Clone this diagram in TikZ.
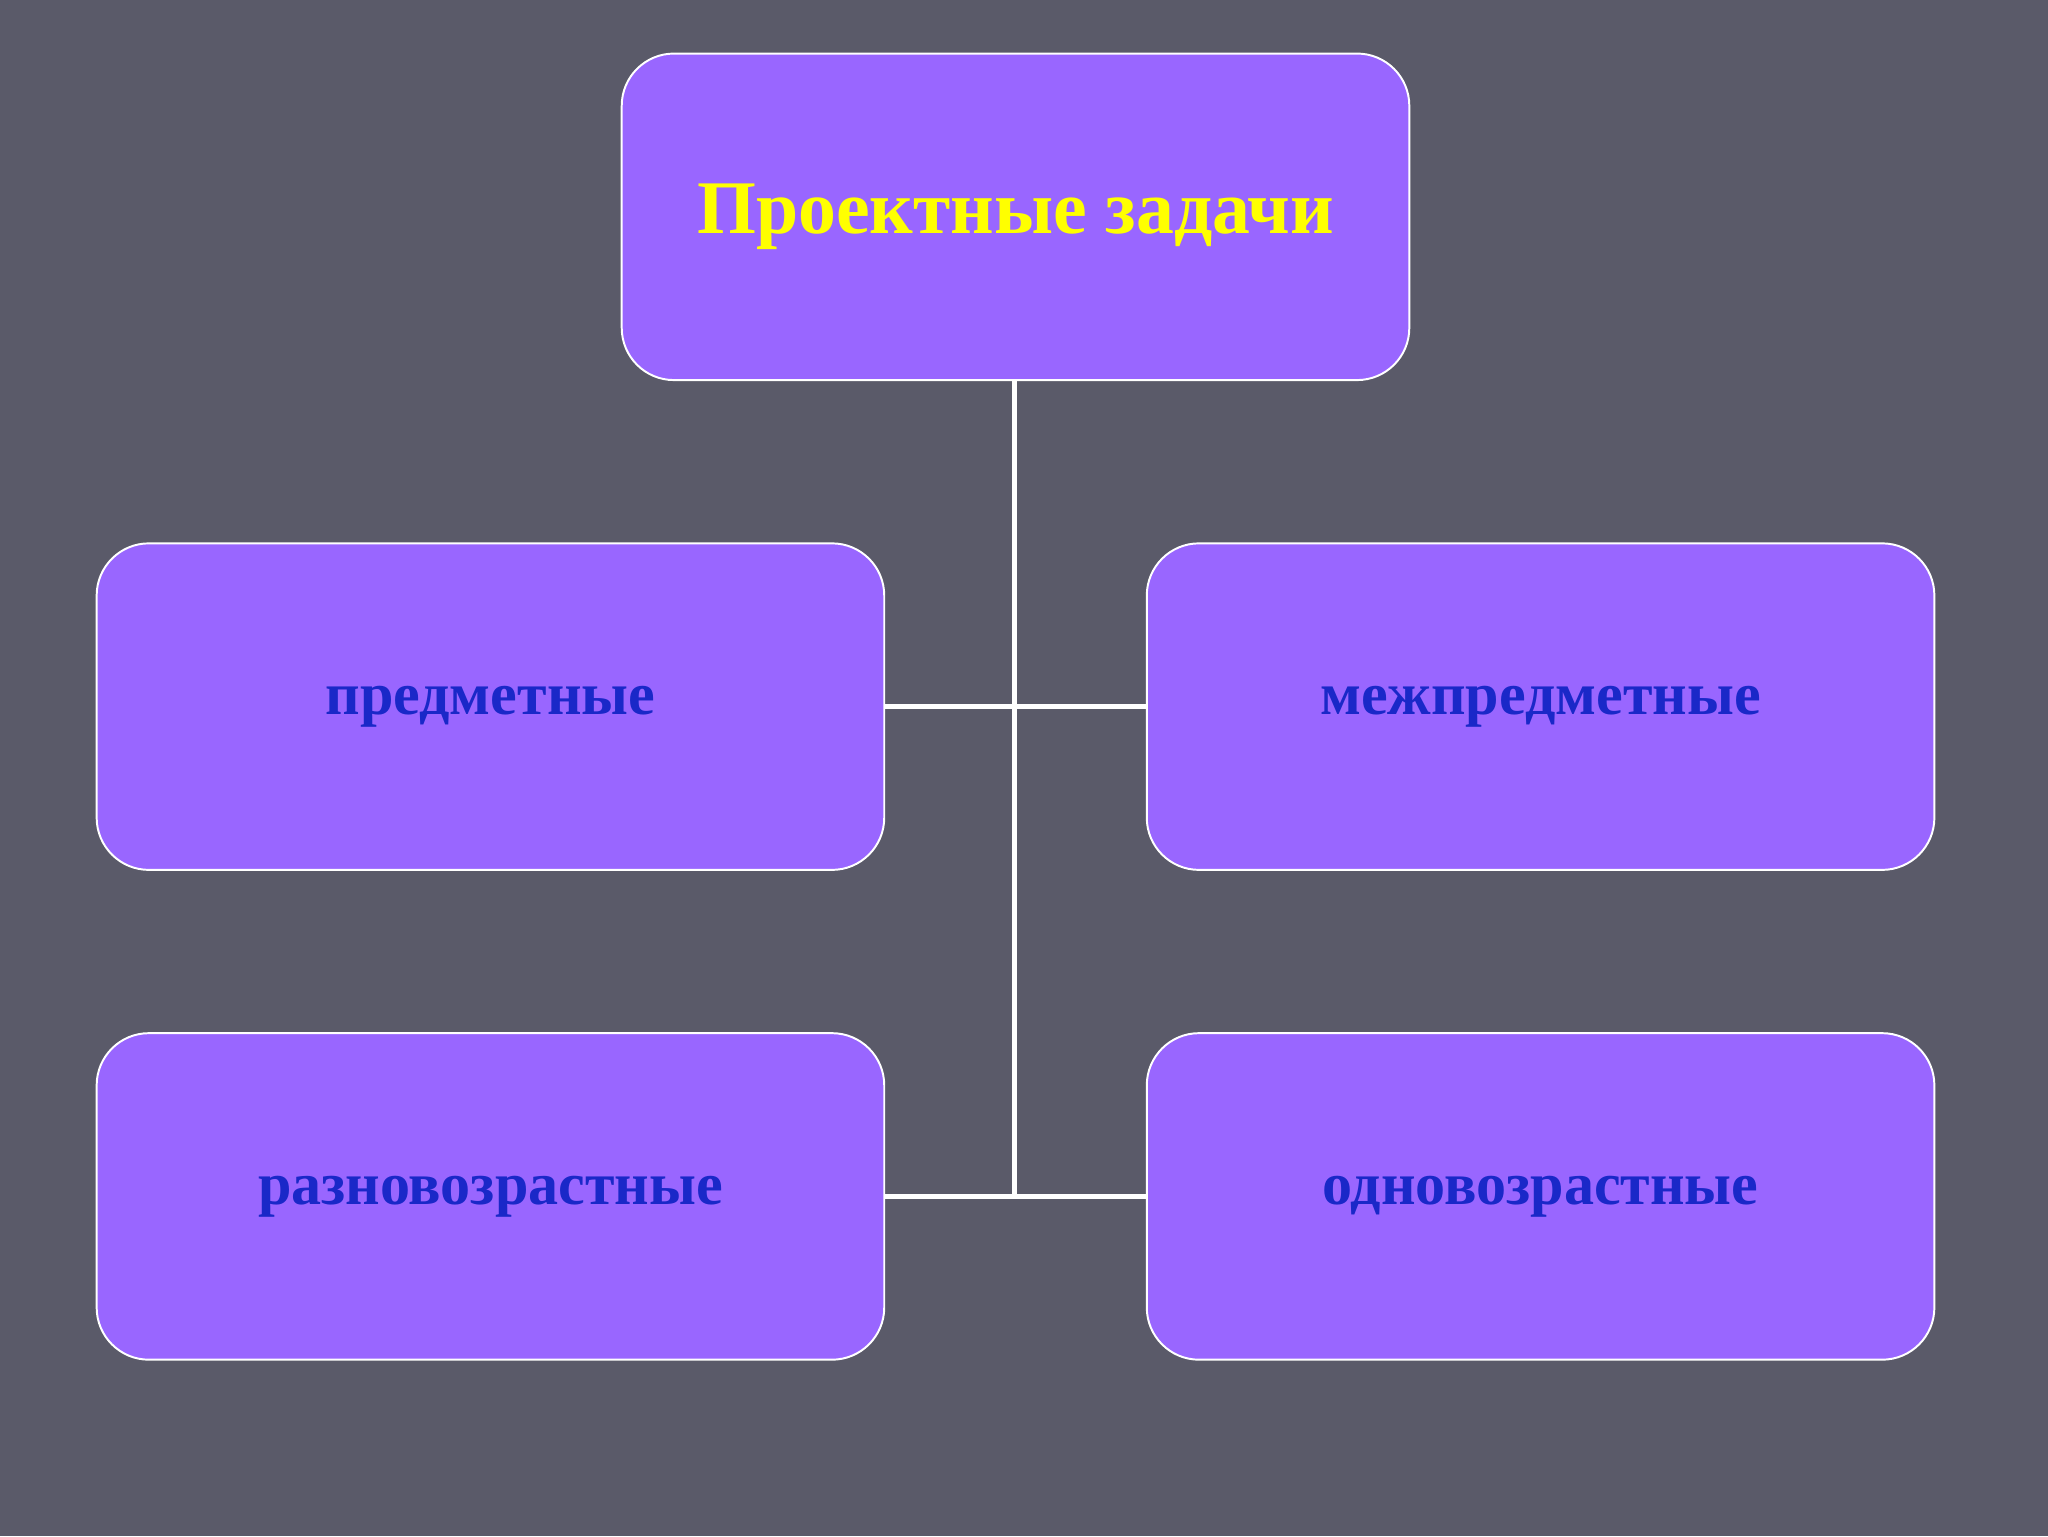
\documentclass[tikz,border=0pt]{standalone}
\usepackage{fontspec}
\setmainfont{Liberation Serif}
\definecolor{bg}{HTML}{5A5A69}
\definecolor{boxf}{HTML}{9966FF}
\definecolor{txtb}{HTML}{1A28C8}
\definecolor{ttl}{HTML}{FFFF00}
\tikzset{
 box/.style={draw=white,line width=1.5pt,fill=boxf,rounded corners=40pt,minimum width=603pt,minimum height=250pt,font=\bfseries\fontsize{46}{50}\selectfont,text=txtb},
 conn/.style={draw=white,line width=4pt}
}
\begin{document}
\begin{tikzpicture}[x=1pt,y=-1pt]
\fill[bg] (0,0) rectangle (1568,1176);
\useasboundingbox (0,0) rectangle (1568,1176);
\node[box,text=ttl,font=\bfseries\fontsize{58}{62}\selectfont] (top) at (777.5,166) {Проектные задачи};
\node[box] (l1) at (375.5,541) {предметные};
\node[box] (r1) at (1179.5,541) {межпредметные};
\node[box] (l2) at (375.5,916) {разновозрастные};
\node[box] (r2) at (1179.5,916) {одновозрастные};
\coordinate (j1) at (777,541);
\coordinate (j2) at (777,915);
\draw[conn] (top.south -| j1) -- (j2);
\draw[conn] (l1.east) -- (r1.west);
\draw[conn] (l2.east) -- (r2.west);
\end{tikzpicture}
\end{document}
